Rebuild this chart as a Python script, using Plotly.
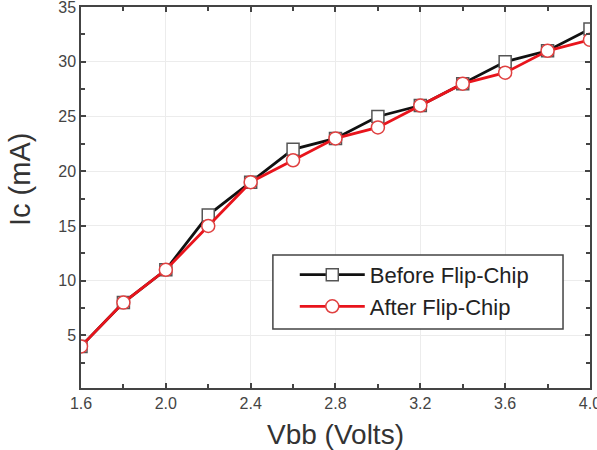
import plotly.graph_objects as go

vbb = [1.6, 1.8, 2.0, 2.2, 2.4, 2.6, 2.8, 3.0, 3.2, 3.4, 3.6, 3.8, 4.0]
ic_before = [4, 8, 11, 16, 19, 22, 23, 25, 26, 28, 30, 31, 33]
ic_after = [4, 8, 11, 15, 19, 21, 23, 24, 26, 28, 29, 31, 32]
x_ticks = [1.6, 2.0, 2.4, 2.8, 3.2, 3.6, 4.0]
y_ticks = [5, 10, 15, 20, 25, 30, 35]

FONT = "Liberation Sans, Arial"

fig = go.Figure()
fig.add_trace(go.Scatter(
    x=vbb, y=ic_before, name="Before Flip-Chip", mode="lines+markers",
    line=dict(color="#111111", width=2.8),
    marker=dict(symbol="square", size=12, color="white", line=dict(color="#555555", width=1.5)),
))
fig.add_trace(go.Scatter(
    x=vbb, y=ic_after, name="After Flip-Chip", mode="lines+markers",
    line=dict(color="#e8141c", width=2.8),
    marker=dict(symbol="circle", size=13, color="white", line=dict(color="#e04040", width=1.5)),
))

axis_common = dict(
    showline=True, linecolor="#444444", linewidth=1.5, mirror="ticks",
    ticks="inside", ticklen=5, tickwidth=1.5, tickcolor="#444444",
    showgrid=True, gridcolor="#ececec", gridwidth=1, zeroline=False,
    tickfont=dict(family=FONT, size=16, color="#444444"),
    ticklabeloverflow="allow", automargin=False,
)

fig.update_xaxes(
    range=[1.6, 4.0001], tickvals=x_ticks, ticktext=[f"{v:.1f}" for v in x_ticks],
    minor=dict(ticks="inside", ticklen=4, tickwidth=1.5, tickcolor="#444444", dtick=0.2, tick0=1.6, showgrid=False),
    **axis_common,
)
fig.update_yaxes(
    range=[0.2, 35], tickvals=y_ticks,
    minor=dict(ticks="inside", ticklen=4, tickwidth=1.5, tickcolor="#444444", dtick=2.5, tick0=0, showgrid=False),
    **axis_common,
)

fig.add_annotation(
    text="Vbb (Volts)", xref="paper", yref="paper", x=0.5, y=-0.123,
    xanchor="center", yanchor="middle", showarrow=False,
    font=dict(family=FONT, size=28, color="#333333"),
)
fig.add_annotation(
    text="Ic (mA)", xref="paper", yref="paper", x=-0.1198, y=0.546,
    xanchor="center", yanchor="middle", showarrow=False, textangle=-90,
    font=dict(family=FONT, size=29, color="#333333"),
)

# legend frame
fig.add_shape(
    type="rect", xref="paper", yref="paper", x0=0.377, x1=0.947, y0=0.155, y1=0.349,
    line=dict(color="#444444", width=1.5), fillcolor="white", layer="above",
)

fig.update_layout(
    width=597, height=450,
    margin=dict(l=81, r=7, t=7, b=62),
    plot_bgcolor="white", paper_bgcolor="white",
    legend=dict(
        x=0.42, y=0.352, xanchor="left", yanchor="top",
        borderwidth=0, bgcolor="rgba(0,0,0,0)",
        font=dict(family=FONT, size=22, color="#222222"),
        itemwidth=65, tracegroupgap=0,
    ),
)

fig.write_html("out.html")
